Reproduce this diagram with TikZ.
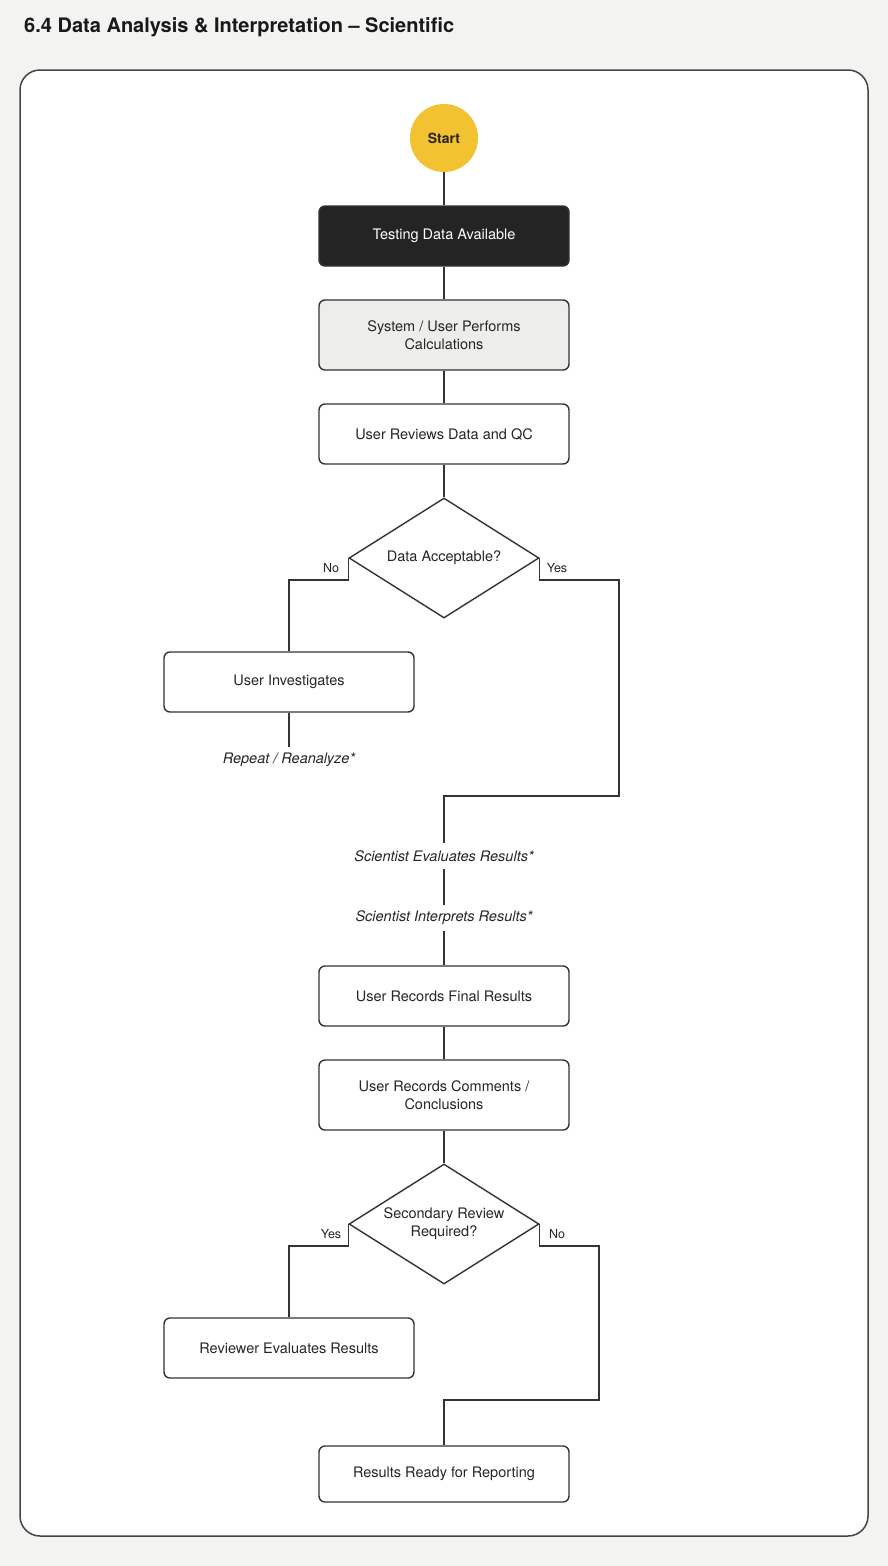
\documentclass[tikz,border=0pt]{standalone}
\usepackage{fontspec}
\setmainfont{TeX Gyre Heros}
\usetikzlibrary{shapes.geometric}
\definecolor{bg}{HTML}{F3F3F2}
\definecolor{panelline}{HTML}{444444}
\definecolor{ink}{HTML}{333333}
\definecolor{startfill}{HTML}{F2C230}
\definecolor{darkfill}{HTML}{242424}
\definecolor{greyfill}{HTML}{EDEDEB}
\tikzset{
  box/.style={draw=ink, line width=1.4pt, rounded corners=6pt, minimum width=250pt, minimum height=60pt, align=center, inner sep=0pt, font=\fontsize{14.5}{18}\selectfont, text=black!85},
  darkbox/.style={box, fill=darkfill, text=white},
  greybox/.style={box, fill=greyfill},
  whitebox/.style={box, fill=white},
  decision/.style={diamond, draw=ink, line width=1.4pt, fill=white, aspect=1.583, minimum width=190pt, minimum height=120pt, inner sep=0pt, align=center, font=\fontsize{14.5}{18}\selectfont, text=black!85},
  note/.style={inner sep=0pt, minimum height=26pt, font=\fontsize{14.5}{18}\selectfont\itshape, text=black!85},
  branch/.style={font=\fontsize{12.5}{14}\selectfont, text=black!85, inner sep=0pt},
  conn/.style={draw=ink, line width=1.4pt},
}
\begin{document}
\begin{tikzpicture}[x=1pt,y=-1pt]
\fill[bg] (0,0) rectangle (888,1566);
\useasboundingbox (0,0) rectangle (888,1566);
\node[anchor=base west, inner sep=0pt, font=\fontsize{20}{22}\selectfont\bfseries, text=black!90] (title) at (24,32) {6.4 Data Analysis \& Interpretation – Scientific};
\draw[panelline, line width=1.5pt, fill=white, rounded corners=20pt] (20,70) rectangle (868,1536);

\node[circle, fill=startfill, minimum size=68pt, inner sep=0pt, font=\fontsize{14}{16}\selectfont\bfseries, text=black!85] (start) at (444,138) {Start};
\node[darkbox] (tda) at (444,236) {Testing Data Available};
\node[greybox, minimum height=70pt] (calc) at (444,335) {System / User Performs\\Calculations};
\node[whitebox] (rev) at (444,434) {User Reviews Data and QC};
\node[decision] (d1) at (444,558) {Data Acceptable?};
\node[whitebox] (inv) at (289,682) {User Investigates};
\node[note] (rep) at (289,760) {Repeat / Reanalyze*};
\node[note] (sev) at (444,856) {Scientist Evaluates Results*};
\node[note] (sin) at (444,918) {Scientist Interprets Results*};
\node[whitebox] (final) at (444,996) {User Records Final Results};
\node[whitebox, minimum height=70pt] (comm) at (444,1095) {User Records Comments /\\Conclusions};
\node[decision] (d2) at (444,1224) {Secondary Review\\Required?};
\node[whitebox] (rever) at (289,1348) {Reviewer Evaluates Results};
\node[whitebox, minimum height=56pt] (ready) at (444,1474) {Results Ready for Reporting};

\coordinate (y1) at (619,580);
\coordinate (y2) at (619,796);
\coordinate (n1) at (599,1246);
\coordinate (n2) at (599,1400);

\draw[conn] (start) -- (tda);
\draw[conn] (tda) -- (calc);
\draw[conn] (calc) -- (rev);
\draw[conn] (rev) -- (d1);
\draw[conn] (d1.west) -- ++(0,22) -| (inv.north);
\draw[conn] (inv) -- (rep);
\draw[conn] (d1.east) -- ++(0,22) -- (y1) -- (y2) -| (sev.north);
\draw[conn] (sev) -- (sin);
\draw[conn] (sin) -- (final);
\draw[conn] (final) -- (comm);
\draw[conn] (comm) -- (d2);
\draw[conn] (d2.west) -- ++(0,22) -| (rever.north);
\draw[conn] (d2.east) -- ++(0,22) -- (n1) -- (n2) -| (ready.north);

\node[branch, anchor=base] (lno) at (331,572) {No};
\node[branch, anchor=base] (lyes) at (557,572) {Yes};
\node[branch, anchor=base] (lyes2) at (331,1238) {Yes};
\node[branch, anchor=base] (lno2) at (557,1238) {No};
\end{tikzpicture}
\end{document}
